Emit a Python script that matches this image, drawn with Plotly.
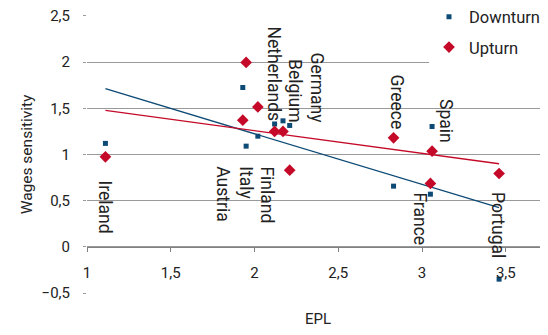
import numpy as np
import plotly.graph_objects as go

countries = ["Ireland", "Austria", "Italy", "Finland", "Netherlands", "Belgium",
             "Germany", "Greece", "France", "Spain", "Portugal"]
epl = [1.11, 1.93, 1.95, 2.02, 2.12, 2.17, 2.21, 2.83, 3.05, 3.06, 3.46]
downturn = [1.12, 1.725, 1.09, 1.198, 1.33, 1.364, 1.314, 0.657, 0.57, 1.303, -0.35]
upturn = [0.974, 1.371, 1.996, 1.515, 1.249, 1.249, 0.83, 1.18, 0.686, 1.036, 0.794]

x_ticks = [1, 1.5, 2, 2.5, 3, 3.5]
y_ticks = [-0.5, 0, 0.5, 1, 1.5, 2, 2.5]

# label placement (data coords of rotated label centre-x / top-y)
label_x = [1.109, 1.814, 1.951, 2.076, 2.118, 2.243, 2.374, 2.851, 2.989, 3.144, 3.454]
label_top = [0.743, 0.895, 0.895, 0.895, 2.41, 2.053, 2.129, 1.891, 0.614, 1.62, 0.614]

BLUE = "#0D4A75"
RED = "#C40A28"
FONT = "Roboto"
TXT = "#222222"

x = np.array(epl)
xs = np.array([x.min(), x.max()])
bd = np.polyfit(x, np.array(downturn), 1)
bu = np.polyfit(x, np.array(upturn), 1)

fig = go.Figure()
fig.add_trace(go.Scatter(x=xs, y=np.polyval(bd, xs), mode="lines",
                         line=dict(color=BLUE, width=1.3), showlegend=False, hoverinfo="skip"))
fig.add_trace(go.Scatter(x=xs, y=np.polyval(bu, xs), mode="lines",
                         line=dict(color=RED, width=1.3), showlegend=False, hoverinfo="skip"))
fig.add_trace(go.Scatter(x=epl, y=downturn, mode="markers", name="Downturn",
                         legendgroup="d",
                         marker=dict(symbol="square", size=5, color=BLUE)))
fig.add_trace(go.Scatter(x=epl, y=upturn, mode="markers", name="Upturn",
                         legendgroup="u",
                         marker=dict(symbol="diamond", size=9, color=RED)))

for c, lx, ly in zip(countries, label_x, label_top):
    fig.add_annotation(x=lx, y=ly, text=c, textangle=90, showarrow=False,
                       xanchor="center", yanchor="top",
                       font=dict(family=FONT, size=17.5, color=TXT))

fig.add_annotation(xref="paper", yref="paper", x=0.5, y=-0.095, text="EPL",
                   showarrow=False, xanchor="center", yanchor="middle",
                   font=dict(family=FONT, size=15, color=TXT))
fig.add_annotation(xref="paper", yref="paper", x=-0.1294, y=0.5, text="Wages sensitivity",
                   textangle=-90, showarrow=False, xanchor="center", yanchor="middle",
                   font=dict(family=FONT, size=15.5, color=TXT))

fig.update_layout(
    width=540, height=327,
    margin=dict(l=79, r=0, t=7, b=42, autoexpand=False),
    paper_bgcolor="white", plot_bgcolor="white",
    separators=", ",
    font=dict(family=FONT, size=15, color=TXT),
    showlegend=True,
    legend=dict(x=(429 - 87) / 461, y=1.056, xanchor="left", yanchor="top",
                bgcolor="white", font=dict(family=FONT, size=16.5, color=TXT),
                tracegroupgap=6, borderwidth=0),
    xaxis=dict(range=[1, 3.752], tickvals=x_ticks, anchor="free", position=0.5 / 3.01,
               showgrid=False, zeroline=False, showline=True, linecolor="#808080",
               linewidth=1, ticks="outside", ticklen=4, tickcolor="#808080",
               ticklabelstandoff=8, tickfont=dict(size=15), automargin=False,
               ticklabeloverflow="allow"),
    yaxis=dict(range=[-0.5, 2.51], tickvals=y_ticks, showgrid=True, gridcolor="#9a9a9a",
               gridwidth=1, zeroline=False, showline=False, ticks="outside",
               ticklen=3, tickcolor="#9a9a9a", ticklabelstandoff=10,
               tickfont=dict(size=15), automargin=False, ticklabeloverflow="allow"),
)

fig.write_html("out.html")
